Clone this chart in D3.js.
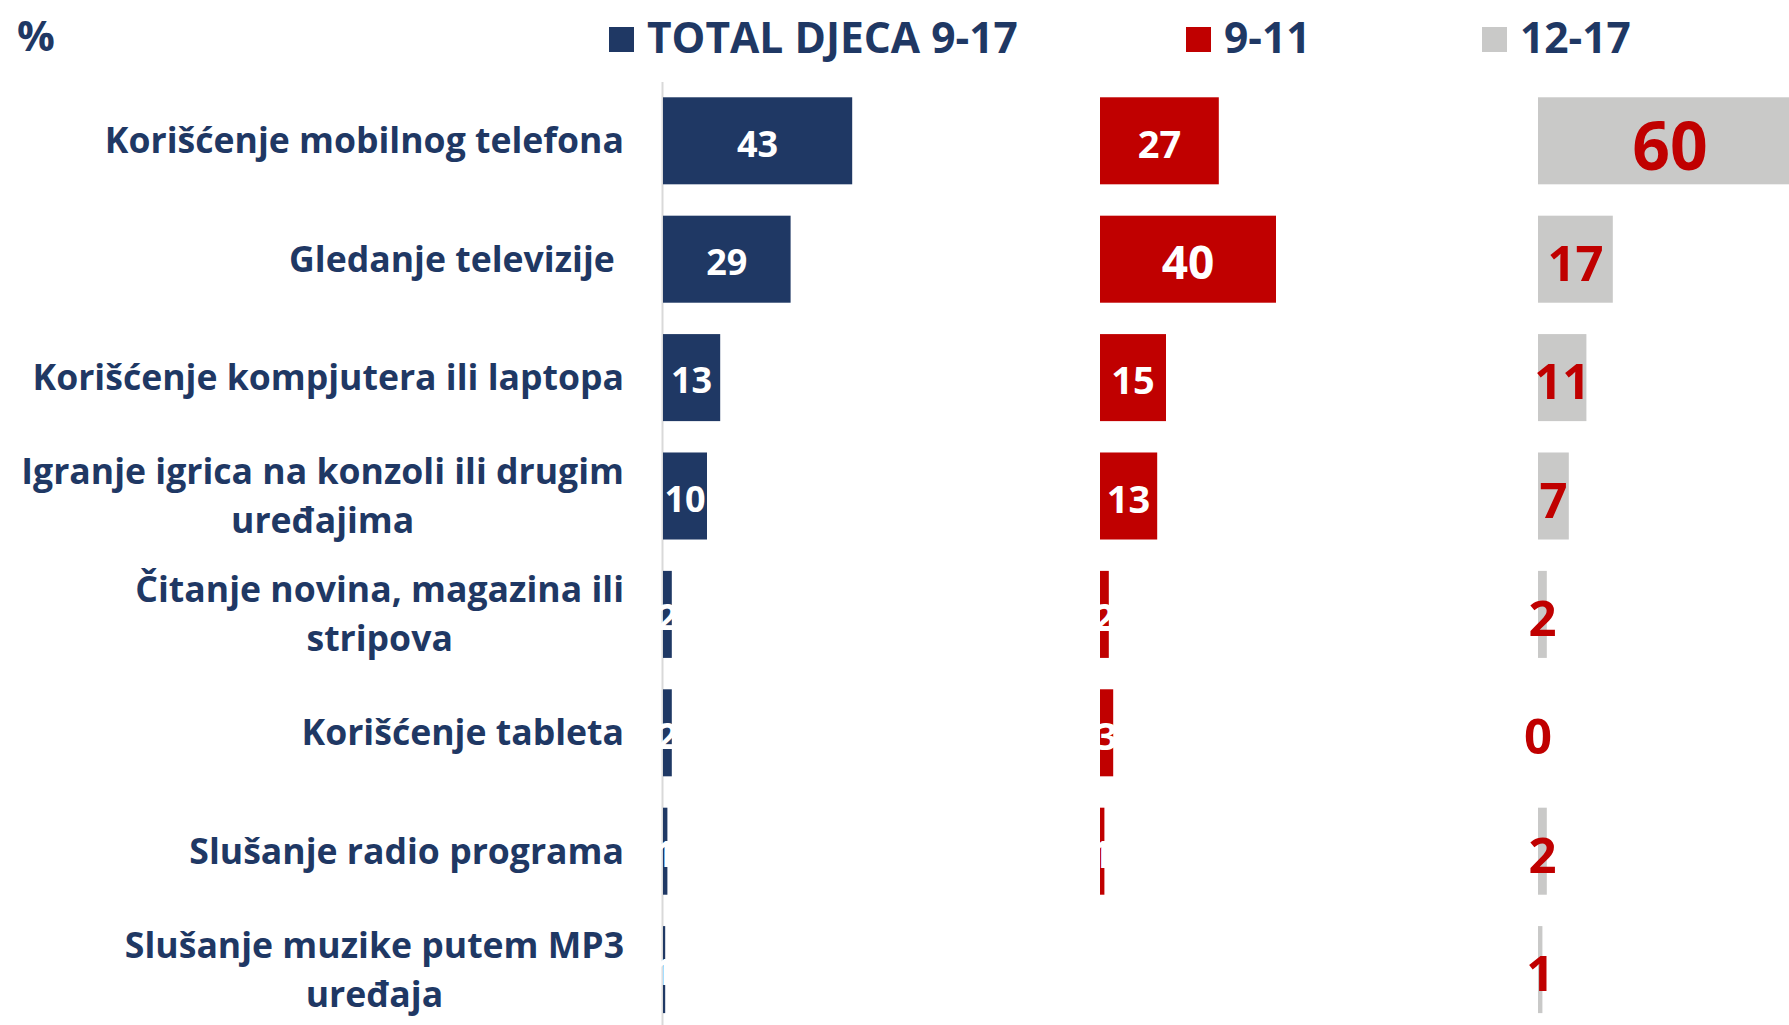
<!DOCTYPE html>
<meta charset="utf-8">
<style>

body { margin: 0; background: #fff; }
text { font-family: "Open Sans", sans-serif; font-weight: 700; }

</style>
<body>
<script src="https://d3js.org/d3.v7.min.js"></script>
<script>
var categories = ["Korišćenje mobilnog telefona",
                  "Gledanje televizije ",
                  "Korišćenje kompjutera ili laptopa",
                  "Igranje igrica na konzoli ili drugim\nuređajima",
                  "Čitanje novina, magazina ili\nstripova",
                  "Korišćenje tableta",
                  "Slušanje radio programa",
                  "Slušanje muzike putem MP3\nuređaja"];

var seriesNames = ["TOTAL DJECA 9-17", "9-11", "12-17"];

var total     = [43, 29, 13, 10, 2, 2, 1, 0.5];
var age9to11  = [27, 40, 15, 13, 2, 3, 1, 0];
var age12to17 = [60, 17, 11, 7, 2, 0, 2, 1];

var unitLabel = "%";

var navy = "#1f3864", red = "#c00000", grey = "#c9c9c8";

var width = 1789, height = 1025;

var svg = d3.select("body").append("svg")
    .attr("width", width)
    .attr("height", height);

// one band per category, shared by all three panels
var y = d3.scaleBand()
    .domain(categories)
    .range([81.6, 1028.8])
    .paddingInner(0.265)
    .paddingOuter(0.1325);

// same percent scale for every panel
var x = d3.scaleLinear()
    .domain([0, 100])
    .range([0, 440]);

var panels = [
  {name: seriesNames[0], values: total,     left: 663,  fill: navy, labelFill: "#fff",
   size: function(v) { return 36; }},
  {name: seriesNames[1], values: age9to11,  left: 1100, fill: red,  labelFill: "#fff",
   size: function(v) { return v >= 40 ? 46 : 38; }},
  {name: seriesNames[2], values: age12to17, left: 1538, fill: grey, labelFill: red,
   size: function(v) { return v >= 60 ? 66 : 49; }}
];

// vertical axis line of the first panel
svg.append("g")
    .attr("transform", "translate(662,0)")
    .call(d3.axisLeft(y).tickSize(0).tickSizeOuter(0).tickFormat(""))
    .call(function(g) {
      g.select(".domain").attr("stroke", "#d9d9d9").attr("stroke-width", 2);
    });

panels.forEach(function(p) {
  var g = svg.append("g").attr("transform", "translate(" + p.left + ",0)");

  g.selectAll("rect")
      .data(p.values)
    .enter().append("rect")
      .attr("x", 0)
      .attr("y", function(d, i) { return y(categories[i]); })
      .attr("width", function(d) { return x(d); })
      .attr("height", y.bandwidth())
      .attr("fill", p.fill);

  g.selectAll("text")
      .data(p.values)
    .enter().append("text")
      .attr("x", function(d) { return x(d) / 2; })
      .attr("y", function(d, i) {
        return y(categories[i]) + y.bandwidth() / 2 + 0.44 * p.size(d);
      })
      .attr("text-anchor", "middle")
      .attr("fill", p.labelFill)
      .style("font-size", function(d) { return p.size(d) + "px"; })
      .text(function(d) { return Math.round(d); });
});

// category labels: right edge at 623, wrapped lines centred on each other
var labelRight = 624, lineGap = 49;
categories.forEach(function(c) {
  var lines = c.split("\n");
  var t = svg.append("text")
      .attr("fill", navy)
      .style("font-size", "35.6px")
      .style("white-space", "pre");
  var spans = lines.map(function(l) { return t.append("tspan").text(l); });
  var widest = d3.max(spans, function(s) { return s.node().getComputedTextLength(); });
  var mid = y(c) + y.bandwidth() / 2;
  var firstBase = mid + 12.5 - (lines.length - 1) * lineGap / 2;
  if (lines.length === 1) {
    t.attr("text-anchor", "end").attr("x", labelRight).attr("y", firstBase);
  } else {
    t.attr("text-anchor", "middle");
    spans.forEach(function(s, i) {
      s.attr("x", labelRight - widest / 2).attr("y", firstBase + i * lineGap);
    });
  }
});

// legend
var legendX = [609, 1186, 1482];
panels.forEach(function(p, i) {
  svg.append("rect")
      .attr("x", legendX[i]).attr("y", 27)
      .attr("width", 25).attr("height", 25)
      .attr("fill", p.fill);
  svg.append("text")
      .attr("x", legendX[i] + 38).attr("y", 53)
      .attr("fill", navy)
      .style("font-size", "42.5px")
      .text(p.name);
});

svg.append("text")
    .attr("x", 17).attr("y", 51)
    .attr("fill", navy)
    .style("font-size", "42px")
    .text(unitLabel);

</script>
</body>
